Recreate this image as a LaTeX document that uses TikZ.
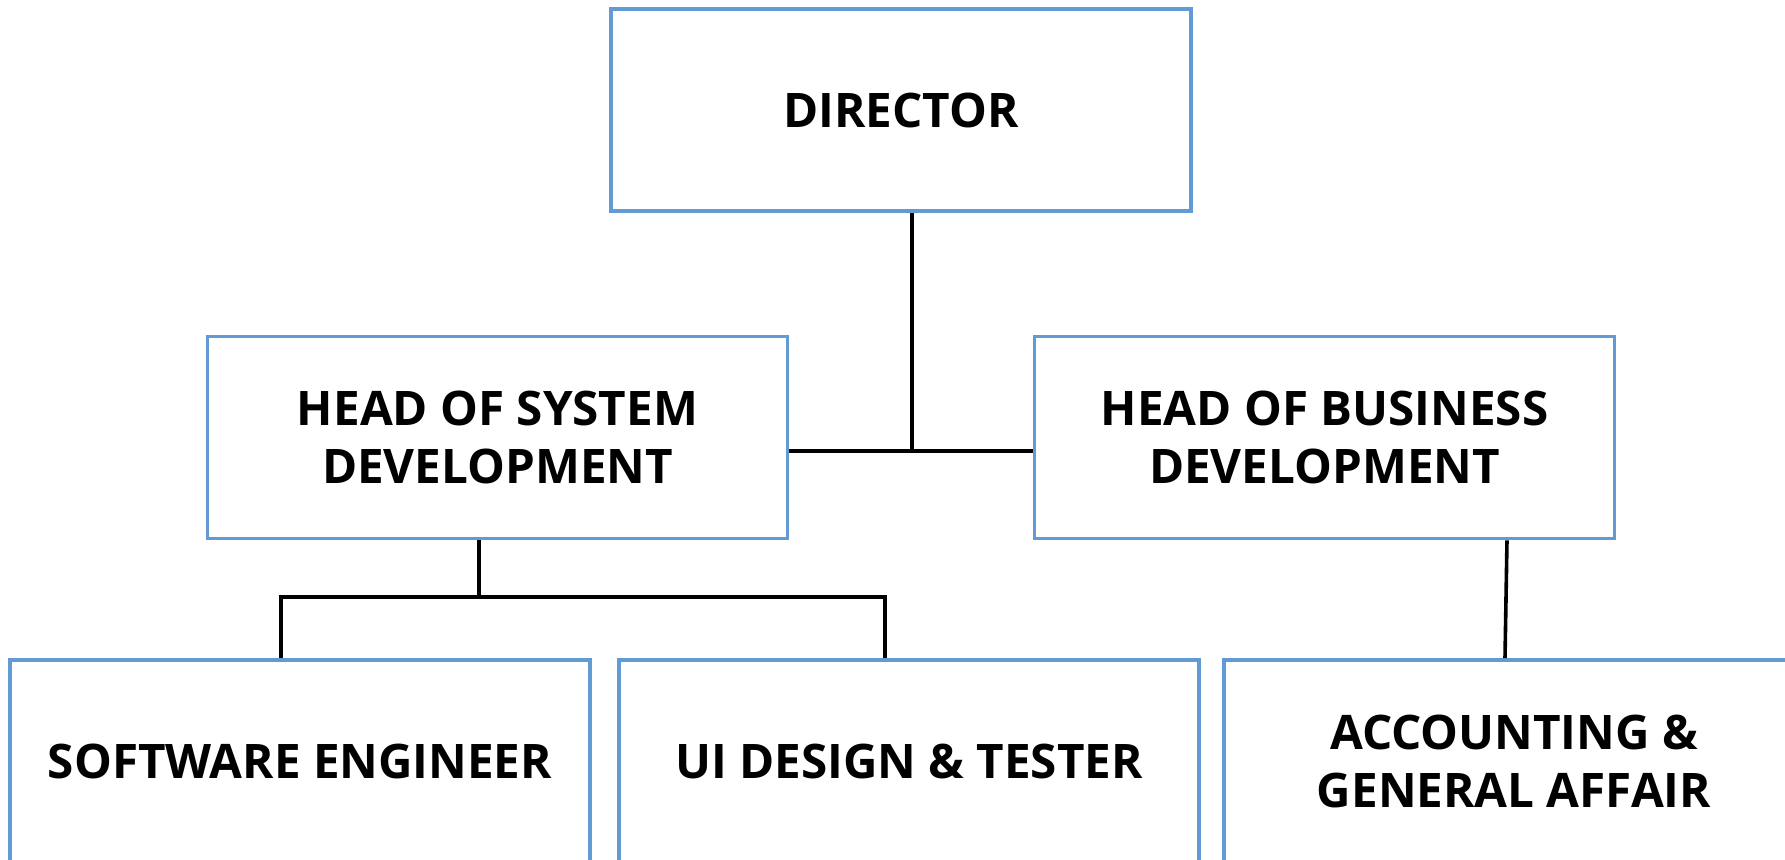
\documentclass[tikz,border=0pt]{standalone}
\usepackage{fontspec}
\setmainfont{Open Sans}
\usepackage{tikz}
\definecolor{boxblue}{RGB}{98,155,211}

\begin{document}
\begin{tikzpicture}[x=0.5pt,y=0.5pt,node distance=304.5pt,
  line width=1.8pt,
  org node/.style={rectangle,draw=boxblue,line width=1.8pt,minimum width=290pt,minimum height=101pt,
    align=center,font=\bfseries\fontsize{23.8}{29}\selectfont,inner sep=0pt}]

  \useasboundingbox (0,0) rectangle (1785,-860);

  \node[org node] (dir) at (901,-110) 	{DIRECTOR};
  \node[org node] (sys) at (497.5,-437.5) 	{HEAD OF SYSTEM\\DEVELOPMENT};
  \node[org node] (bus) [right of=sys,node distance=413.5pt] 	{HEAD OF BUSINESS\\DEVELOPMENT};
  \node[org node] (se) at (300,-761) 	{SOFTWARE ENGINEER};
  \node[org node] (ui) [right of=se] 	{UI DESIGN \& TESTER};
  \node[org node] (acc) [right of=ui,node distance=302.5pt] 	{ACCOUNTING \&\\GENERAL AFFAIR};

  \draw ([yshift=-6.75pt]sys.east) coordinate (midleft) -- ([yshift=-6.75pt]bus.west);
  \draw ([xshift=5.5pt]dir.south) -- ([xshift=5.5pt]dir.south |- midleft);
  \draw ([xshift=-9.25pt]sys.south) -- ++(0,-57) coordinate (sysjoin);
  \draw ([xshift=-9.5pt]se.north) |- (sysjoin) -| ([xshift=-12pt]ui.north);
  \draw ([xshift=91.25pt]bus.south) -- ([xshift=-4.5pt]acc.north);
\end{tikzpicture}
\end{document}
